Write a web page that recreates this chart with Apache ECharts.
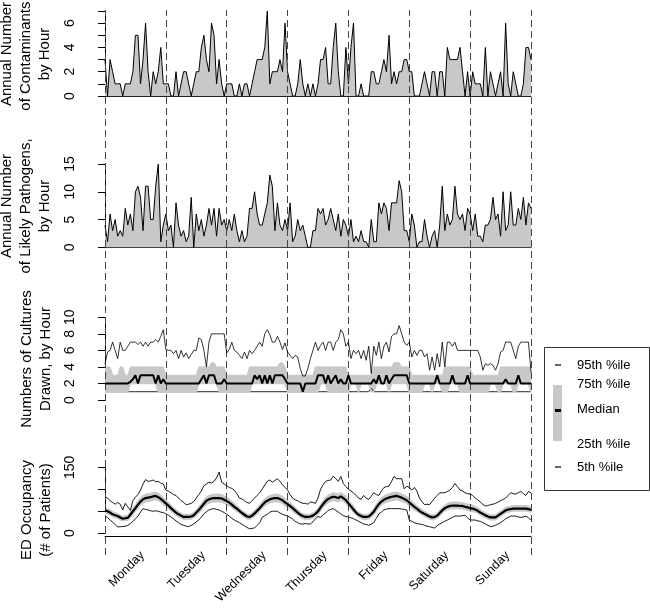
<!DOCTYPE html>
<html>
<head>
<meta charset="utf-8">
<script src="https://cdn.jsdelivr.net/npm/echarts@6/dist/echarts.min.js"></script>
<style>
html,body{margin:0;padding:0;background:#fff;}
#c{width:650px;height:609px;}
</style>
</head>
<body>
<div id="c"></div>
<script>
// ---------- data (one value per hour, Monday 00:00 .. Sunday 24:00) ----------
const days = ['Monday','Tuesday','Wednesday','Thursday','Friday','Saturday','Sunday'];
const dayBounds = [0,24,48,72,96,120,144,168];

const contaminants = [
 3,0,3,2,1,1,1,0,1,1,1,2,5,5,1,3,6,2,0,2,1,2,4,1,
 1,1,0,0,2,0,1,2,2,1,0,1,2,2,4,5,3,2,6,5,1,3,1,0,
 1,1,1,0,0,1,0,1,1,0,1,2,3,3,3,4,7,1,2,2,2,3,2,6,
 2,1,0,0,1,3,1,0,1,0,1,0,1,3,3,4,1,1,4,6,2,0,0,4,
 1,4,6,0,0,1,0,0,0,2,2,1,1,2,3,2,5,1,2,1,2,2,3,3,
 2,2,0,0,0,1,2,1,0,2,2,0,2,2,0,4,3,3,3,3,4,2,0,2,
 0,2,1,1,1,0,4,0,2,1,0,1,2,0,6,1,0,2,1,0,0,1,4,4,3
];

const pathogens = [
 4,1,6,3,5,2,3,2,7,4,6,3,10,11,9,3,11,11,5,5,11,15,1,4,
 6,3,4,0,8,4,2,3,1,2,9,0,6,3,5,2,4,7,4,7,2,7,4,5,
 3,5,3,6,3,1,3,1,2,7,7,10,6,4,4,6,8,13,11,3,8,4,3,5,
 3,8,1,2,5,3,4,2,0,0,3,3,7,6,7,4,5,7,5,3,6,2,5,4,
 2,5,1,2,1,3,1,1,0,5,1,1,8,6,8,7,3,8,8,8,12,10,3,3,
 1,6,4,0,1,1,5,2,0,2,3,0,4,11,3,6,4,5,11,6,5,6,3,7,
 6,3,6,2,2,1,4,4,5,9,5,6,2,10,3,4,10,4,4,7,5,9,4,8,7
];

const cultP95 = [
 4.4,5.8,6,7,6,5,7,6,6,6.5,7,7,7,6.7,7,6.5,7,6.5,7,7,7.3,7,7.7,8.5,
 6.1,6,6,5.6,6,5,6,5.2,5.7,5,5.5,6,6,7.5,7.3,6,4,7,8,8,8,8,8,8,
 5.7,6.1,7,6,5.8,5.4,5,5.8,5,6,5.6,6,6.5,7,6.5,8,8.5,7.9,7,7,7.7,7,6.1,6.9,
 5.8,5.4,5,5.4,5.2,3.8,2.9,2.9,3.8,5,6,7,6,6.6,7,6,7,7,6,7,7.3,8.5,8,6.5,
 7,5,6,5.6,6,5,6,4.8,6.5,3.2,6.5,5.4,7,5,6.5,7,5.8,7.7,8,8,9,8,7,6.6,
 7,5.2,6,5.4,6,6,5.2,5.6,3.6,5.2,3.6,5.6,4,7,4,7,7,6.5,7,6,6,6,6,6,
 6,6,6,6,5.2,3.6,4.4,4.2,4.4,4.2,3.6,4.4,5.8,6,7,7,7,6,5,6.5,7,7,7,7,3.4
];
const cultP75 = [
 4,4,4,3,3,3,4,4,3,3,4,4,4,4,4,4,4,4,4,4,4,4,4,4,
 3,3,3,3,3,3,3,3,3,3,3,3,3,4,4,4,4,4,4.5,4.5,4,4,4,4,
 3,3,3,3,3,3,3,3,3,4,4,4,4,4,4,4,4,4,4,4,4,4.5,4.5,4,
 3,3,3,3,3,3,3,3,3,3,3,4,4,4,4,4,4,4,4,4,4,4,4,4,
 3,3,3,3,3,3,3,3,3,3,4,4,4,4,4,4,4,4,4.5,4.5,4.5,4,4,4,
 4,3,3,3,3,3,3,3,3,3,3,3,3,3,4,4,4,4,4,4,4,4,4,4,
 4,3,3,3,3,3,3,3,3,3,3,3,4,4,4,4,4,4,4,4,4,4,4,4,4
];
const cultMedian = [
 2,2,2,2,2,2,2,2,2,2,2.2,2.5,3,2,3,3,3,3,3,3,2,3,2,2.5,
 2,2,2,2,2,2,2,2,2,2,2,2,2,2,2.5,3,2,3,3,3,2,2,2,2.5,
 2,2,2,2,2,2,2,2,2,2,2,3,2.5,3,2,3,2,3,2,3,3,3,3,2.5,
 2,2,2,2,2,2,1,2,2,2,2,2,3,3,3,2,3,2,2.5,3,2,2.5,2,2,
 3,2,2,2,2,2,2,2,2,2,2.5,2,3,2,2,3,2,2.5,3,3,3,3,3,3,
 2,2,2,2,2,2,2,2,2,2,2,3,2,2,2,2,2,3,2,2,2,2,2,3,
 2,2,2,2,2,2,2,2,2,2,2,2,2,2,2.5,2,2,2,2,3,2,2,2,2,2
];
const cultP25 = [
 1,1,1,1,1,1,1,1,1,1,2,2,2,2,2,2,2,2,2,2,2,1,1,1,
 1,1,1,1,1,1,1,1,1,1,1,1,1,2,2,2,2,2,2,2,2,1,1,1,
 1,1,1,1,1,1,1,1,1,1,2,2,2,2,2,2,2,2,2,2,2,2,2,2,
 1,1,1,1,1,1,1,1,1,1,1,1,1,2,2,2,1,1,1,1,1,1,1,1,
 1,2,2,2,1,2,2,2,2,1,1,2,2,2,2,2,1,2,2,2,2,2,2,2,
 1,1,1,1,1,1,2,2,2,1,2,2,2,1,1,1,2,2,2,2,1,1,1,1,
 1,1,1,1,1,1,1,1,2,2,2,1,1,2,2,2,2,1,1,2,2,2,2,2,1
];
const cultP5 = [
 1,1,1,1,1,1,1,1,1,1,1,1,1,1,1,1,1,1,1,1,1,1,1,1,
 1,1,1,1,1,1,1,1,1,1,1,1,1,1,1,1,1,1,1,1,1,1,1,1,
 1,1,1,1,1,1,1,1,1,1,1,1,1,1,1,1,1,1,1,1,1,1,1,1,
 1,1,1,1,1,1,1,1,1,1,1,1,1,1,1,1,1,1,1,1,1,1,1,1,
 1,1,1,1,1,1,1,1,1,1.4,1,1,1,1,1,1,1,1,1,1,1,1,1,1,
 1,1,1,1,1,1,1,1,1,1,1,1,1,1,1,1,1,1,1,1,1,1,1,1,
 1,1,1,1,1,1,1,1,1,1,1,1,1,1,1,1,1,1,1,1,1,1,1,1,1
];

const edP95 = [
 82,80,74,70,66,70,66,53,68,60,52,74,82,88,98,112,122,118,119,121,117,118,114,112,
 98,96,92,88,86,80,74,70,65,66,68,72,80,88,96,108,112,116,114,118,126,139,116,112,
 108,104,102,98,90,80,78,74,70,68,74,80,86,92,100,110,118,121,116,120,124,118,110,104,
 98,88,80,76,74,70,68,68,66,71,70,68,80,100,110,118,120,121,130,124,118,129,113,106,
 100,96,92,86,80,77,86,80,77,84,92,88,86,96,104,106,107,118,129,124,124,124,101,107,
 104,98,104,96,80,72,65,66,65,72,80,86,92,92,92,95,98,104,113,106,98,96,92,90,
 89,86,80,76,71,66,62,63,65,66,68,71,74,77,80,86,92,90,89,92,95,90,86,95,92
];
const edP75 = [
 58,56,53,49,47,45,42,39,40,41,49,58,65,74,81,86,89,90,91,93,94,91,87,82,
 76,71,65,59,54,49,46,43,43,43,44,48,54,61,68,76,83,86,88,89,89,89,88,85,
 82,78,73,68,63,58,52,48,44,43,46,52,58,65,72,79,83,86,88,89,89,87,84,79,
 74,70,65,59,54,48,45,43,43,44,46,51,57,66,74,82,87,90,92,91,89,93,89,84,
 77,69,62,54,48,45,43,43,44,50,56,66,74,81,85,88,90,92,93,94,92,90,87,84,
 79,73,68,63,58,54,50,47,44,42,43,46,53,59,64,68,70,71,71,71,70,70,68,67,
 65,64,61,58,54,50,47,44,42,42,42,46,51,55,59,61,62,63,63,63,63,63,63,62,60
];
const edMedian = [
 52,50,47,43,41,39,36,33,34,35,42,50,57,65,72,77,80,81,82,84,85,82,78,73,
 68,63,57,52,47,43,40,37,37,37,38,41,47,53,60,67,74,77,79,80,80,80,79,76,
 73,70,65,60,56,51,46,42,38,37,40,45,51,57,64,70,74,77,79,80,80,78,75,70,
 66,62,57,52,47,42,39,37,37,38,40,44,50,58,66,73,78,81,83,82,80,84,80,75,
 68,61,54,47,42,39,37,37,38,43,49,58,66,72,76,79,81,83,84,85,83,81,78,75,
 70,65,60,56,51,47,44,41,38,36,37,40,46,52,57,60,62,63,63,63,62,62,60,59,
 57,56,54,51,47,44,41,38,36,36,36,40,44,48,52,54,55,56,56,56,56,56,56,55,53
];
const edP25 = [
 46,44,41,37,35,33,30,28,29,29,35,42,49,56,63,68,71,72,73,75,76,74,70,65,
 60,55,50,45,41,37,34,31,31,31,32,35,40,46,52,59,65,68,70,71,71,71,70,68,
 65,62,58,53,49,45,40,36,32,31,34,38,44,50,56,62,66,69,70,71,71,70,67,62,
 58,55,50,45,41,36,33,31,31,32,34,37,43,50,58,64,69,72,74,73,71,75,72,67,
 60,54,47,41,36,33,31,31,32,36,42,50,58,64,68,70,72,74,75,76,74,72,70,67,
 62,57,53,49,45,41,38,35,32,30,31,34,39,45,50,53,55,56,56,56,55,55,53,52,
 50,49,48,45,41,38,35,32,30,30,30,34,38,42,46,48,49,50,50,50,50,50,50,49,47
];
const edP5 = [
 38,36,30,25,20,14,15,15,16,18,22,27,33,39,48,56,54,53,51,50,51,50,48,47,
 44,41,37,33,28,24,20,18,16,15,18,21,26,30,37,44,49,53,55,56,54,53,50,47,
 43,39,34,30,27,24,20,17,13,10,11,12,18,24,36,40,43,48,50,50,50,46,43,41,
 39,36,32,27,24,21,21,22,21,21,26,33,38,36,42,46,52,54,56,52,48,44,40,38,
 37,35,33,30,27,24,21,20,18,21,24,34,44,48,53,55,56,56,56,56,56,55,54,53,
 30,27,24,22,21,20,18,16,15,13,12,17,21,24,27,30,33,36,39,39,39,40,41,35,
 30,30,30,28,27,24,21,18,15,16,18,21,24,28,33,36,39,39,39,37,36,37,39,35,30
];

// ---------- chart ----------
const hours = contaminants.map((_, i) => i);
const xy = arr => arr.map((v, i) => [hours[i], v]);

const FONT = 'Liberation Sans, Arial, Helvetica, sans-serif';
const BAND = '#c8c8c8';
const GL = 105, GW = 426;

const grids = [
  {left: GL, width: GW, top: 11, height: 85},
  {left: GL, width: GW, top: 164, height: 83.3},
  {left: GL, width: GW, top: 317.3, height: 82.7},
  {left: GL, width: GW, top: 467.3, height: 84.4},
  {left: GL, width: GW, top: 10, height: 545}
];

function xAx(idx, extra) {
  return Object.assign({
    type: 'value', gridIndex: idx, min: 0, max: 168,
    axisLine: {show: false}, axisTick: {show: false},
    axisLabel: {show: false}, splitLine: {show: false}
  }, extra || {});
}
function yAx(idx, max, interval, fmt) {
  return {
    type: 'value', gridIndex: idx, min: 0, max: max, interval: interval,
    offset: 19,
    axisLine: {show: true, lineStyle: {color: '#000', width: 1}},
    axisTick: {show: true, length: 7, lineStyle: {color: '#000', width: 1}},
    axisLabel: {show: true, rotate: 90, margin: 9, color: '#000', fontSize: 14, fontFamily: FONT,
                formatter: fmt},
    splitLine: {show: false}
  };
}

const xAxes = [
  xAx(0, {axisLine: {show: true, onZero: false, lineStyle: {color: '#222', width: 1}}}),
  xAx(1, {axisLine: {show: true, onZero: false, lineStyle: {color: '#222', width: 1}}}),
  xAx(2),
  xAx(3, {
    interval: 12, offset: 3,
    axisLine: {show: true, onZero: false, lineStyle: {color: '#000', width: 1}},
    axisLabel: {show: true, rotate: 45, margin: 10, color: '#000', fontSize: 12.5, fontFamily: FONT,
      verticalAlign: 'top', lineHeight: 20,
      formatter: v => (v % 24 === 12 ? days[(v - 12) / 24] : '')}
  }),
  xAx(4)
];
const yAxes = [
  yAx(0, 7, 1, v => (v % 2 === 0 ? String(v) : '')),
  yAx(1, 15, 5, v => String(v)),
  yAx(2, 10, 2, v => String(v)),
  yAx(3, 150, 50, v => (v === 0 || v === 150 ? String(v) : '')),
  {type: 'value', gridIndex: 4, min: 0, max: 1, show: false}
];

function line(ax, data, color, width, z, extra) {
  return Object.assign({
    type: 'line', xAxisIndex: ax, yAxisIndex: ax, data: data,
    symbol: 'none', smooth: false, silent: true, z: z,
    lineStyle: {color: color, width: width}
  }, extra || {});
}
// interquartile band: upper quartile filled grey, lower quartile masked white
function band(ax, hi, lo) {
  return [
    line(ax, xy(hi), BAND, 1, 1, {areaStyle: {color: BAND, opacity: 1}}),
    line(ax, xy(lo), '#fff', 0, 2, {areaStyle: {color: '#fff', opacity: 1}})
  ];
}

const series = [
  line(0, xy(contaminants), '#000', 1, 2, {areaStyle: {color: BAND, opacity: 1}}),
  line(1, xy(pathogens), '#000', 1, 2, {areaStyle: {color: BAND, opacity: 1}}),

  ...band(2, cultP75, cultP25),
  line(2, xy(cultP5), '#000', 0.9, 3),
  line(2, xy(cultP25), BAND, 1.6, 4),
  line(2, xy(cultP95), '#000', 0.8, 5),
  line(2, xy(cultMedian), '#000', 2, 6),

  ...band(3, edP75, edP25),
  line(3, xy(edP5), '#000', 0.9, 3),
  line(3, xy(edP25), BAND, 1, 4),
  line(3, xy(edP95), '#000', 0.9, 5),
  line(3, xy(edMedian), '#000', 2.2, 6),

  {
    type: 'line', xAxisIndex: 4, yAxisIndex: 4, data: [[0, 0]], symbol: 'none', silent: true,
    lineStyle: {opacity: 0}, z: 8,
    markLine: {
      silent: true, symbol: 'none', animation: false,
      label: {show: false},
      lineStyle: {type: [7, 4], color: '#444', width: 1},
      data: dayBounds.map(v => ({xAxis: v}))
    }
  }
];

function title(txt, x, y) {
  return {
    type: 'text', x: x, y: y, rotation: Math.PI / 2, silent: true,
    style: {text: txt, x: 0, y: 0, textAlign: 'center', verticalAlign: 'middle',
            font: '15px ' + FONT, fill: '#000', lineHeight: 19}
  };
}
function ltext(txt, y) {
  return {type: 'text', silent: true, style: {text: txt, x: 577, y: y, textAlign: 'left',
          verticalAlign: 'middle', font: '13px ' + FONT, fill: '#000'}};
}

const graphics = [
  title('Annual Number\nof Contaminants,\nby Hour', 26, 54),
  title('Annual Number\nof Likely Pathogens,\nby Hour', 26, 206),
  title('Numbers of Cultures\nDrawn, by Hour', 36, 359),
  title('ED Occupancy\n(# of Patients)', 36.5, 510),
  {type: 'rect', silent: true, shape: {x: 544.5, y: 347.5, width: 105, height: 143},
   style: {fill: '#fff', stroke: '#333', lineWidth: 1}},
  {type: 'rect', silent: true, shape: {x: 553, y: 385, width: 9, height: 56}, style: {fill: BAND}},
  {type: 'line', silent: true, shape: {x1: 555, y1: 365, x2: 561, y2: 365}, style: {stroke: '#000', lineWidth: 1.2}},
  {type: 'line', silent: true, shape: {x1: 555, y1: 410.5, x2: 561, y2: 410.5}, style: {stroke: '#000', lineWidth: 3}},
  {type: 'line', silent: true, shape: {x1: 555, y1: 467, x2: 561, y2: 467}, style: {stroke: '#000', lineWidth: 1.2}},
  ltext('95th %ile', 365),
  ltext('75th %ile', 384),
  ltext('Median', 409),
  ltext('25th %ile', 444),
  ltext('5th %ile', 467)
];

const chart = echarts.init(document.getElementById('c'), null, {renderer: 'canvas', width: 650, height: 609});
chart.setOption({
  animation: false,
  backgroundColor: '#fff',
  textStyle: {fontFamily: FONT},
  grid: grids,
  xAxis: xAxes,
  yAxis: yAxes,
  series: series,
  graphic: graphics
});
</script>
</body>
</html>
